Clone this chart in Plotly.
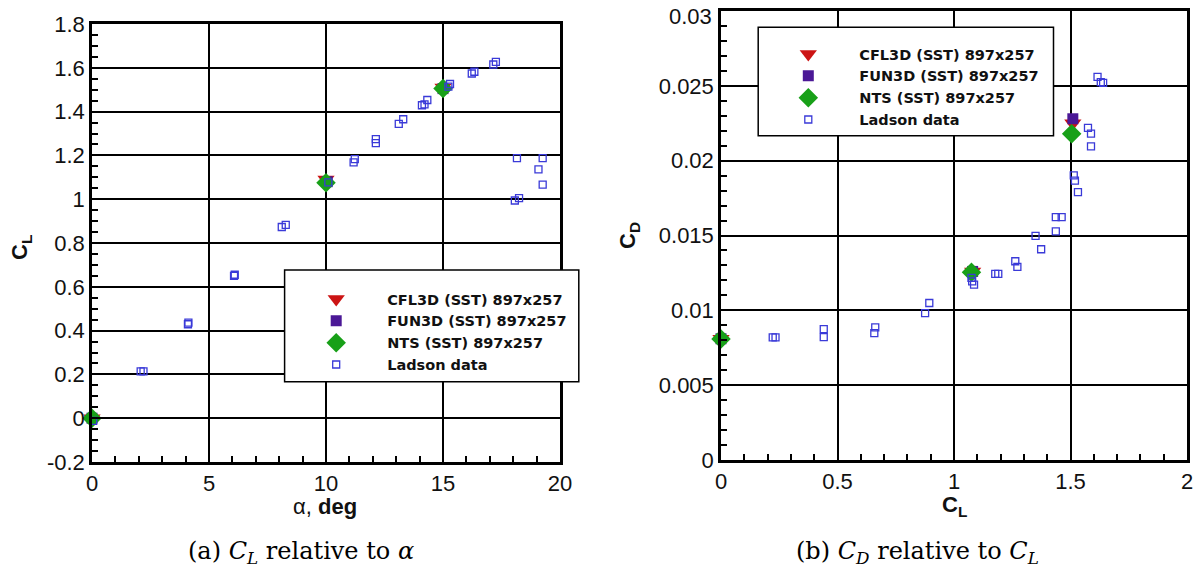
import plotly.graph_objects as go

# page body has an 8px margin: size the figure so it fills the 1201x577 window exactly
OFF = 8
FW, FH = 1201 - 2 * OFF, 577 - 2 * OFF

# ---------------- data: (a) CL vs alpha ----------------
alpha_cfl3d = [0.0, 10.0, 15.0]
cl_cfl3d_a = [0.0, 1.09, 1.51]
alpha_fun3d = [0.0, 10.05, 15.0]
cl_fun3d_a = [0.0, 1.08, 1.505]
alpha_nts = [0.0, 10.0, 15.0]
cl_nts_a = [0.0, 1.075, 1.505]

alpha_ladson = [0.05, 2.08, 2.2, 4.1, 4.12, 6.07, 6.1, 8.11, 8.28, 10.1, 11.18, 11.23,
                12.13, 12.13, 13.11, 13.3, 14.1, 14.21, 14.33, 15.23, 15.3, 16.23, 16.34,
                17.15, 17.26, 18.07, 18.25, 18.16, 19.08, 19.26, 19.26]
cl_ladson_a = [-0.012, 0.214, 0.214, 0.429, 0.436, 0.65, 0.655, 0.873, 0.883, 1.077, 1.168, 1.183,
               1.256, 1.274, 1.344, 1.365, 1.429, 1.433, 1.453, 1.514, 1.526, 1.574, 1.582,
               1.615, 1.627, 0.994, 1.005, 1.188, 1.136, 1.188, 1.067]

# ---------------- data: (b) CD vs CL ----------------
cl_cfl3d_b = [0.0, 1.08, 1.51]
cd_cfl3d = [0.0081, 0.0126, 0.0225]
cl_fun3d_b = [0.0, 1.08, 1.51]
cd_fun3d = [0.0081, 0.0126, 0.0228]
cl_nts_b = [0.0, 1.075, 1.505]
cd_nts = [0.00808, 0.01254, 0.0218]

cl_ladson_b = [0.222, 0.234, 0.441, 0.441, 0.658, 0.662, 0.876, 0.894, 1.075, 1.078, 1.086,
               1.177, 1.190, 1.272, 1.263, 1.350, 1.374, 1.437, 1.462, 1.437, 1.514, 1.519,
               1.532, 1.575, 1.588, 1.588, 1.616, 1.630, 1.640]
cd_ladson = [0.00819, 0.00819, 0.00821, 0.00875, 0.00848, 0.00886, 0.00982, 0.01049, 0.01217,
             0.01194, 0.01172, 0.01243, 0.01243, 0.0129, 0.01328, 0.01498, 0.01408, 0.01623,
             0.01623, 0.01527, 0.01902, 0.01866, 0.0179, 0.02219, 0.02181, 0.02096, 0.0256,
             0.02525, 0.0252]

names = ["CFL3D (SST) 897x257", "FUN3D (SST) 897x257", "NTS (SST) 897x257", "Ladson data"]

# tick labels
a_xticks = [0, 5, 10, 15, 20]
a_yticks = [-0.2, 0, 0.2, 0.4, 0.6, 0.8, 1.0, 1.2, 1.4, 1.6, 1.8]
a_yticktext = ["-0.2", "0", "0.2", "0.4", "0.6", "0.8", "1", "1.2", "1.4", "1.6", "1.8"]
b_xticks = [0, 0.5, 1, 1.5, 2]
b_xticktext = ["0", "0.5", "1", "1.5", "2"]
b_yticks = [0, 0.005, 0.01, 0.015, 0.02, 0.025, 0.03]
b_yticktext = ["0", "0.005", "0.01", "0.015", "0.02", "0.025", "0.03"]
# the top label of panel (b) sits at the very page edge; it is drawn as a label below
b_top_label = b_yticktext[-1]

RED = "#cc1414"
PURPLE = "#4b1896"
GREEN = "#18a018"
BLUE = "#3a3ad8"

def px(x):
    return (x - OFF) / FW

def py(y):
    return 1 - (y - OFF) / FH

styles = [
    dict(symbol="triangle-down", size=15, color=RED),
    dict(symbol="square", size=11, color=PURPLE),
    dict(symbol="diamond", size=15, color=GREEN),
    dict(symbol="square-open", size=7, color=BLUE, line=dict(width=1.3, color=BLUE)),
]

fig = go.Figure()

sets_a = [(alpha_cfl3d, cl_cfl3d_a), (alpha_fun3d, cl_fun3d_a), (alpha_nts, cl_nts_a),
          (alpha_ladson, cl_ladson_a)]
sets_b = [(cl_cfl3d_b, cd_cfl3d), (cl_fun3d_b, cd_fun3d), (cl_nts_b, cd_nts),
          (cl_ladson_b, cd_ladson)]

for (xs, ys), nm, st in zip(sets_a, names, styles):
    fig.add_trace(go.Scatter(x=xs, y=ys, mode="markers", name=nm, marker=st,
                             xaxis="x", yaxis="y", legend="legend", cliponaxis=False))
for (xs, ys), nm, st in zip(sets_b, names, styles):
    fig.add_trace(go.Scatter(x=xs, y=ys, mode="markers", name=nm, marker=st,
                             xaxis="x2", yaxis="y2", legend="legend2", cliponaxis=False))

TICKFONT = dict(family="Liberation Sans", size=22, color="#111111")

def axis_common(**kw):
    d = dict(showline=True, linecolor="black", linewidth=2.5, mirror=True,
             showgrid=True, gridcolor="black", gridwidth=1.5, zeroline=False,
             ticks="inside", ticklen=10, tickwidth=2, tickcolor="black",
             tickfont=TICKFONT, tickmode="array", automargin=False,
             ticklabeloverflow="allow")
    d.update(kw)
    return d

LEGFONT = dict(family="DejaVu Sans", size=14.5, color="#111111", weight="bold")

fig.update_layout(
    width=FW, height=FH, margin=dict(l=0, r=0, t=0, b=0, autoexpand=False),
    plot_bgcolor="white", paper_bgcolor="white", showlegend=True,
    xaxis=axis_common(domain=[px(92), px(560)], range=[0, 20], anchor="y",
                      tickvals=a_xticks, ticktext=[str(v) for v in a_xticks],
                      minor=dict(dtick=1, ticks="inside", ticklen=6, tickwidth=1.5,
                                 tickcolor="black", showgrid=False)),
    yaxis=axis_common(domain=[py(462), py(24)], range=[-0.2, 1.8], anchor="x",
                      tickvals=a_yticks, ticktext=a_yticktext,
                      minor=dict(dtick=0.05, ticks="inside", ticklen=6, tickwidth=1.5,
                                 tickcolor="black", showgrid=False)),
    xaxis2=axis_common(domain=[px(721), px(1187)], range=[0, 2], anchor="y2",
                       tickvals=b_xticks, ticktext=b_xticktext,
                       minor=dict(dtick=0.1, ticks="inside", ticklen=6, tickwidth=1.5,
                                  tickcolor="black", showgrid=False)),
    yaxis2=axis_common(domain=[py(460), py(11)], range=[0, 0.03], anchor="x2",
                       tickvals=b_yticks, ticktext=b_yticktext[:-1] + [""],
                       minor=dict(dtick=0.001, ticks="inside", ticklen=6, tickwidth=1.5,
                                  tickcolor="black", showgrid=False)),
    legend=dict(x=px(285.2), y=py(283), xanchor="left", yanchor="top",
                bgcolor="rgba(0,0,0,0)", borderwidth=0, itemwidth=92,
                font=LEGFONT, tracegroupgap=0),
    legend2=dict(x=px(757.3), y=py(38), xanchor="left", yanchor="top",
                 bgcolor="rgba(0,0,0,0)", borderwidth=0, itemwidth=92,
                 font=LEGFONT, tracegroupgap=0),
    shapes=[
        dict(type="rect", xref="paper", yref="paper", x0=px(284.6), x1=px(578.8),
             y0=py(381.7), y1=py(270), fillcolor="white",
             line=dict(color="black", width=1.5), layer="above"),
        dict(type="rect", xref="paper", yref="paper", x0=px(758.2), x1=px(1053.5),
             y0=py(135.7), y1=py(27.3), fillcolor="white",
             line=dict(color="black", width=1.5), layer="above"),
    ],
)

TITLEFONT = dict(family="Liberation Sans", size=22, color="#111111")
CAPFONT = dict(family="DejaVu Serif", size=24, color="black")

def label(x, y, text, font, angle=0, xanchor="center", yanchor="middle"):
    fig.add_annotation(x=px(x), y=py(y), xref="paper", yref="paper", showarrow=False,
                       xanchor=xanchor, yanchor=yanchor, text=text, font=font,
                       textangle=angle)

label(714, 16, b_top_label, TICKFONT, xanchor="right")
label(325, 506, "α, <b>deg</b>", TITLEFONT)
label(21, 248, "<b>C<sub>L</sub></b>", TITLEFONT, -90)
label(954, 506, "<b>C<sub>L</sub></b>", TITLEFONT)
label(629, 236, "<b>C<sub>D</sub></b>", TITLEFONT, -90)
label(301, 552, "(a) <i>C</i><sub><i>L</i></sub> relative to <i>α</i>", CAPFONT)
label(918, 552, "(b) <i>C</i><sub><i>D</i></sub> relative to <i>C</i><sub><i>L</i></sub>",
      CAPFONT)

fig.write_html("out.html")
